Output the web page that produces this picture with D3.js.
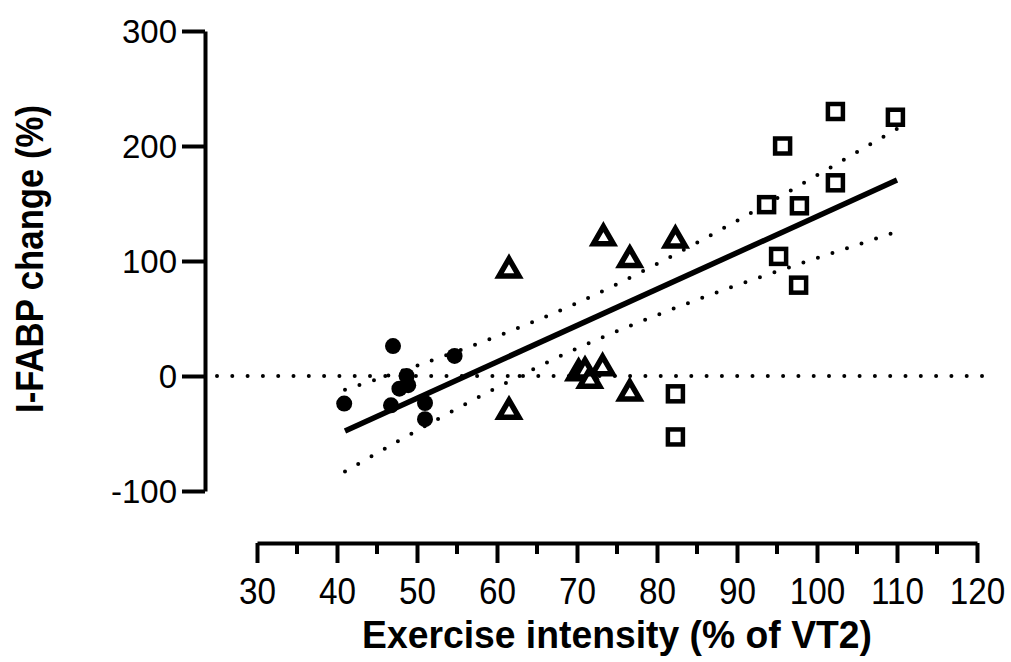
<!DOCTYPE html>
<html>
<head>
<meta charset="UTF-8">
<title>I-FABP vs exercise intensity</title>
<script src="https://d3js.org/d3.v7.min.js"></script>
<style>
  body { margin: 0; background: #fff; }
  svg { display: block; }
  text { font-family: "Liberation Sans", Arial, sans-serif; fill: #000; }
</style>
</head>
<body>
<svg width="1011" height="662"></svg>
<script>
// --- data ---
const circleX = [40.9, 47.0, 46.75, 47.8, 48.7, 48.9, 51.0, 51.0, 54.7];
const circleY = [-24, 26, -25.5, -11, 0, -8, -23.5, -37.5, 17.5];

const triangleX = [61.5, 73.3, 76.6, 82.3, 61.5, 76.6, 70.2, 71.0, 71.6, 73.2];
const triangleY = [92, 120, 101, 118, -31, -15, 2.5, 4, -4, 7];

const squareX = [102.3, 109.8, 95.7, 102.3, 93.7, 97.8, 95.2, 97.7, 82.3, 82.3];
const squareY = [230, 225, 200, 168, 149, 148, 104, 79, -15.5, -53];

// fitted line (end points) and confidence band
const fitX = [41, 110];
const fitY = [-47.8, 170.4];
const bandX = [41, 50, 60, 70, 80, 90, 100, 110];
const bandUpper = [-12, 9, 34.5, 63.5, 97.5, 135, 174.5, 215];
const bandLower = [-83, -47.5, -10, 24, 53, 79, 102.5, 125.5];

const xTicks = [30, 40, 50, 60, 70, 80, 90, 100, 110, 120];
const xMinor = [35, 45, 55, 65, 75, 85, 95, 105, 115];
const yTicks = [-100, 0, 100, 200, 300];
const zeroLineX = [25, 122.5];

const svg = d3.select("svg");

const x = d3.scaleLinear().domain([30, 120]).range([257, 977]);
const y = d3.scaleLinear().domain([-100, 300]).range([491, 31]);
const yAxisX = 205, xAxisY = 543;

// axes
const yAxis = svg.append("g")
  .attr("transform", `translate(${yAxisX},0)`)
  .call(d3.axisLeft(y).tickValues(yTicks).tickFormat(d => String(d))
    .tickSize(23).tickSizeOuter(0).tickPadding(5));
yAxis.select(".domain").attr("stroke-width", 4);
yAxis.selectAll(".tick line").attr("stroke-width", 4);
yAxis.selectAll(".tick text").attr("font-size", 33).attr("font-family", "Liberation Sans, Arial")
  .attr("dy", "0.36em");

const xAxis = svg.append("g")
  .attr("transform", `translate(0,${xAxisY})`)
  .call(d3.axisBottom(x).tickValues(xTicks).tickSize(20).tickSizeOuter(0).tickPadding(15));
xAxis.select(".domain").attr("stroke-width", 4);
xAxis.selectAll(".tick line").attr("stroke-width", 4);
xAxis.selectAll(".tick text").attr("font-size", 37).attr("font-family", "Liberation Sans, Arial")
  .attr("transform", "scale(0.9,1)");

svg.append("g").selectAll("line").data(xMinor).join("line")
  .attr("x1", d => x(d)).attr("x2", d => x(d))
  .attr("y1", xAxisY).attr("y2", xAxisY + 11)
  .attr("stroke", "#000").attr("stroke-width", 4);

// axis titles
svg.append("text")
  .attr("x", 617).attr("y", 648)
  .attr("text-anchor", "middle")
  .attr("font-size", 39).attr("font-weight", "bold")
  .attr("textLength", 510).attr("lengthAdjust", "spacingAndGlyphs")
  .text("Exercise intensity (% of VT2)");

svg.append("text")
  .attr("transform", "translate(43,259) rotate(-90)")
  .attr("text-anchor", "middle")
  .attr("font-size", 38).attr("font-weight", "bold")
  .attr("textLength", 308).attr("lengthAdjust", "spacingAndGlyphs")
  .text("I-FABP change (%)");

// dotted lines
const dotted = g => g.attr("fill", "none").attr("stroke", "#000")
  .attr("stroke-width", 4).attr("stroke-linecap", "round")
  .attr("stroke-dasharray", "0 15.3");

svg.append("line")
  .attr("x1", x(zeroLineX[0])).attr("x2", x(zeroLineX[1]))
  .attr("y1", y(0)).attr("y2", y(0))
  .call(dotted);

const bandLine = d3.line().curve(d3.curveNatural);
svg.append("path")
  .attr("d", bandLine(bandX.map((d, i) => [x(d), y(bandUpper[i])])))
  .call(dotted);
svg.append("path")
  .attr("d", bandLine(bandX.map((d, i) => [x(d), y(bandLower[i])])))
  .call(dotted);

// regression line
svg.append("line")
  .attr("x1", x(fitX[0])).attr("y1", y(fitY[0]))
  .attr("x2", x(fitX[1])).attr("y2", y(fitY[1]))
  .attr("stroke", "#000").attr("stroke-width", 5.5);

// points
svg.append("g").selectAll("circle").data(circleX).join("circle")
  .attr("cx", d => x(d)).attr("cy", (d, i) => y(circleY[i]))
  .attr("r", 8).attr("fill", "#000");

const tri = d3.symbol().type(d3.symbolTriangle).size(170);
svg.append("g").selectAll("path").data(triangleX).join("path")
  .attr("d", tri)
  .attr("transform", (d, i) => `translate(${x(d)},${y(triangleY[i])})`)
  .attr("fill", "#fff").attr("stroke", "#000").attr("stroke-width", 5.5)
  .attr("stroke-linejoin", "miter");

svg.append("g").selectAll("rect").data(squareX).join("rect")
  .attr("x", d => x(d) - 7.5).attr("y", (d, i) => y(squareY[i]) - 7.5)
  .attr("width", 15).attr("height", 15)
  .attr("fill", "#fff").attr("stroke", "#000").attr("stroke-width", 4.5);
</script>
</body>
</html>
